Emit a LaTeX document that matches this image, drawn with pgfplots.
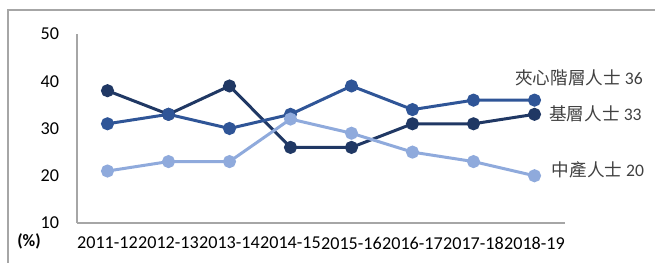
\documentclass[border=0pt]{standalone}
\usepackage{pgfplots}
\pgfplotsset{compat=1.18}
\usepackage{fontspec}
\setmainfont{Carlito}
\newfontfamily\cjk{Noto Sans CJK TC}
\definecolor{cDark}{HTML}{203864}
\definecolor{cMid}{HTML}{2F5597}
\definecolor{cLight}{HTML}{8FAADC}
\definecolor{axgray}{HTML}{A6A6A6}
\definecolor{txt}{HTML}{404040}
\begin{document}
\begin{tikzpicture}
\path[use as bounding box] (0pt,0pt) rectangle (491.25pt,197.25pt);
\draw[axgray, line width=0.9pt] (6pt,0pt) -- (6pt,189.75pt) -- (491.25pt,189.75pt);
\node[font=\fontsize{13}{15}\selectfont\bfseries, text=black] at (21.75pt,16.5pt) {(\%)};
\begin{axis}[
  at={(57.75pt,30pt)}, anchor=south west,
  scale only axis, width=366pt, height=141.75pt,
  xmin=-0.5, xmax=7.5, ymin=10, ymax=50,
  ytick={10,20,30,40,50},
  xtick={0,...,7},
  xticklabels={2011-12,2012-13,2013-14,2014-15,2015-16,2016-17,2017-18,2018-19},
  axis x line*=bottom, axis y line*=left,
  axis line style={axgray, line width=0.9pt, -},
  major tick length=0pt,
  tick label style={font=\fontsize{13.6}{15}\selectfont, text=black},
  /pgf/number format/assume math mode=true,
  yticklabel style={xshift=-10pt},
  xticklabel style={yshift=-7pt},
  clip=false,
  every axis plot/.append style={line width=2.25pt, mark=*, mark size=3.75pt},
]
\addplot[color=cDark, mark options={fill=cDark, draw=cDark}] coordinates {(0,38)(1,33)(2,39)(3,26)(4,26)(5,31)(6,31)(7,33)};
\addplot[color=cMid, mark options={fill=cMid, draw=cMid}] coordinates {(0,31)(1,33)(2,30)(3,33)(4,39)(5,34)(6,36)(7,36)};
\addplot[color=cLight, mark options={fill=cLight, draw=cLight}] coordinates {(0,21)(1,23)(2,23)(3,32)(4,29)(5,25)(6,23)(7,20)};
\node[anchor=east, text=txt, font=\fontsize{13.2}{15}\selectfont, inner sep=0pt] at (axis cs:8.78,40.7) {{\cjk 夾心階層人士} 36};
\node[anchor=east, text=txt, font=\fontsize{13.2}{15}\selectfont, inner sep=0pt] at (axis cs:8.76,33.1) {{\cjk 基層人士} 33};
\node[anchor=east, text=txt, font=\fontsize{13.2}{15}\selectfont, inner sep=0pt] at (axis cs:8.8,21.2) {{\cjk 中產人士} 20};
\end{axis}
\end{tikzpicture}
\end{document}
